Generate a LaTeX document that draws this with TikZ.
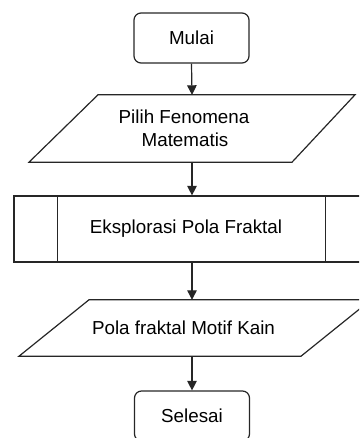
\documentclass[tikz,border=0pt]{standalone}
\usepackage{fontspec}
\setmainfont{Liberation Sans}
\usetikzlibrary{arrows.meta,calc}
\begin{document}
\begin{tikzpicture}[x=1pt,y=1pt,
  line/.style={draw=black!85,line width=1.2pt},
  term/.style={line,rectangle,rounded corners=7pt,minimum width=115pt,minimum height=50pt,inner sep=0pt},
  plain/.style={rectangle,inner sep=0pt,align=center},
  proc/.style={line,rectangle,minimum width=356pt,minimum height=66pt,inner sep=0pt},
  flow/.style={line,-{Triangle[width=9.5pt,length=9.5pt]}},
  font=\fontsize{18.8}{23}\selectfont]
\useasboundingbox (0,0) rectangle (359,-438);
\clip (0,0) rectangle (359,-438);

\node[term] (start) at (191.5,-38) {Mulai};

\node[plain,minimum width=190pt,minimum height=67pt] (in) at (192,-128.5)
  {Pilih Fenomena\hspace*{16pt}\\Matematis\hspace*{14pt}};
\draw[line] ($(in.north)+(-94,0)$) -- ($(in.north)+(163,0)$) -- ($(in.south)+(100,0)$) -- ($(in.south)+(-163,0)$) -- cycle;

\node[proc] (proc) at (192,-229) {Eksplorasi Pola Fraktal\hspace*{12pt}};
\draw[line] ($(proc.north west)+(44,0)$) -- ($(proc.south west)+(44,0)$);
\draw[line] ($(proc.north east)+(-45,0)$) -- ($(proc.south east)+(-45,0)$);

\node[plain,minimum width=200pt,minimum height=56pt] (out) at (192,-328)
  {Pola fraktal Motif Kain\hspace*{17pt}};
\draw[line] ($(out.north)+(-103,0)$) -- ($(out.north)+(179,0)$) -- ($(out.south)+(109,0)$) -- ($(out.south)+(-173,0)$) -- cycle;

\node[term] (stop) at (192,-416) {Selesai};

\draw[flow] (start.south) -- (in.north);
\draw[flow] (in.south) -- (proc.north);
\draw[flow] (proc.south) -- (out.north);
\draw[flow] (out.south) -- (stop.north);
\end{tikzpicture}
\end{document}
